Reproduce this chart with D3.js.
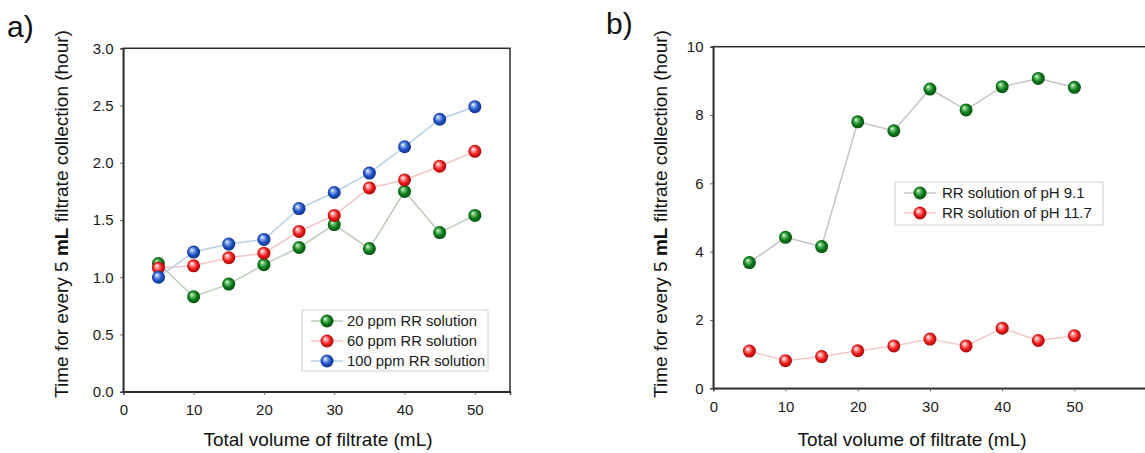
<!DOCTYPE html>
<html><head><meta charset="utf-8">
<script src="https://cdn.jsdelivr.net/npm/d3@7/dist/d3.min.js"></script>
<style>body{margin:0;background:#fff}svg{display:block}</style>
</head><body>
<svg id="c" width="1145" height="453"></svg>
<script>
const volume = [5,10,15,20,25,30,35,40,45,50];
const ppm20 = [1.12,0.83,0.94,1.11,1.26,1.46,1.25,1.75,1.39,1.54];
const ppm60 = [1.08,1.10,1.17,1.21,1.40,1.54,1.78,1.85,1.97,2.10];
const ppm100 = [1.00,1.22,1.29,1.33,1.60,1.74,1.91,2.14,2.38,2.49];
const pH91 = [3.68,4.42,4.15,7.80,7.54,8.76,8.15,8.83,9.07,8.81];
const pH117 = [1.09,0.81,0.93,1.10,1.24,1.44,1.24,1.76,1.40,1.54];
const xTicksA = [0,10,20,30,40,50];
const yTicksA = [0,0.5,1.0,1.5,2.0,2.5,3.0];
const xTicksB = [0,10,20,30,40,50];
const yTicksB = [0,2,4,6,8,10];
const seriesA = [
  {name:"20 ppm RR solution", values:ppm20, color:"green", line:"#b9cdb9"},
  {name:"60 ppm RR solution", values:ppm60, color:"red", line:"#f3c4c4"},
  {name:"100 ppm RR solution", values:ppm100, color:"blue", line:"#b4cfe6"}
];
const seriesB = [
  {name:"RR solution of pH 9.1", values:pH91, color:"green", line:"#c4c4c4"},
  {name:"RR solution of pH 11.7", values:pH117, color:"red", line:"#f3c8c8"}
];

const svg = d3.select("#c");
const font = "Liberation Sans, Arial, sans-serif";
const defs = svg.append("defs");
const grad = {green:["#7fd07f","#0d7a1c","#03400a"], red:["#ffb0b0","#ee1c1c","#8a0000"], blue:["#9fbaf2","#1f52c4","#0a2470"]};
Object.entries(grad).forEach(([k,c])=>{
  const g = defs.append("radialGradient").attr("id","g-"+k).attr("cx","0.5").attr("cy","0.5").attr("r","0.6").attr("fx","0.35").attr("fy","0.32");
  g.append("stop").attr("offset","0%").attr("stop-color","#ffffff");
  g.append("stop").attr("offset","18%").attr("stop-color",c[0]);
  g.append("stop").attr("offset","55%").attr("stop-color",c[1]);
  g.append("stop").attr("offset","100%").attr("stop-color",c[2]);
});

function panel(o){
  const x = d3.scaleLinear().domain(o.xDom).range([o.left,o.right]);
  const y = d3.scaleLinear().domain(o.yDom).range([o.bottom,o.top]);
  const g = svg.append("g");
  g.append("rect").attr("x",o.left).attr("y",o.top).attr("width",o.right-o.left).attr("height",o.bottom-o.top)
    .attr("fill","none").attr("stroke","#2a2a2a").attr("stroke-width",1.5);
  const xa = g.append("g").attr("transform",`translate(0,${o.bottom})`)
    .call(d3.axisBottom(x).tickValues(o.xTicks).tickSize(3).tickFormat(d3.format("d")));
  const ya = g.append("g").attr("transform",`translate(${o.left},0)`)
    .call(d3.axisLeft(y).tickValues(o.yTicks).tickSize(3).tickFormat(o.yFmt));
  [xa,ya].forEach(a=>{
    a.select(".domain").attr("stroke","#2a2a2a").attr("stroke-width",1.5);
    a.selectAll(".tick line").attr("stroke","#555");
    a.selectAll("text").attr("font-family",font).attr("font-size",15).attr("fill","#1a1a1a");
  });
  xa.selectAll("text").attr("dy","1.15em");
  ya.selectAll("text").attr("dx","-0.25em");
  const line = d3.line().x((d,i)=>x(volume[i])).y(d=>y(d));
  o.series.forEach(s=>{
    g.append("path").attr("d",line(s.values)).attr("fill","none").attr("stroke",s.line).attr("stroke-width",1.5);
  });
  o.series.forEach(s=>{
    g.selectAll(null).data(s.values).enter().append("circle")
      .attr("cx",(d,i)=>x(volume[i])).attr("cy",d=>y(d)).attr("r",6.5)
      .attr("fill",`url(#g-${s.color})`);
  });
  const lg = g.append("g");
  lg.append("rect").attr("x",o.leg.x).attr("y",o.leg.y).attr("width",o.leg.w).attr("height",o.leg.h)
    .attr("fill","#fff").attr("stroke","#d0d0d0").attr("stroke-width",1);
  o.series.forEach((s,i)=>{
    const yy = o.leg.y + o.leg.pad + i*o.leg.step;
    lg.append("line").attr("x1",o.leg.mx-16).attr("x2",o.leg.mx+16).attr("y1",yy).attr("y2",yy).attr("stroke",s.line).attr("stroke-width",1.5);
    lg.append("circle").attr("cx",o.leg.mx).attr("cy",yy).attr("r",6.5).attr("fill",`url(#g-${s.color})`);
    lg.append("text").attr("x",o.leg.tx).attr("y",yy).attr("dy","0.36em").attr("font-family",font)
      .attr("font-size",o.leg.fs).attr("fill","#1a1a1a").text(s.name);
  });
  svg.append("text").attr("x",o.xlabX).attr("y",o.xlabY).attr("text-anchor","middle")
    .attr("font-family",font).attr("font-size",19).attr("fill","#111").text("Total volume of filtrate (mL)");
  const yl = svg.append("text").attr("transform",`translate(${o.ylabX},${o.ylabCY}) rotate(-90)`).attr("text-anchor","middle")
    .attr("dy","0.35em").attr("font-family",font).attr("font-size",19).attr("fill","#111");
  yl.append("tspan").text("Time for every 5 ");
  yl.append("tspan").attr("font-weight","bold").text("mL");
  yl.append("tspan").text(" filtrate collection (hour)");
  svg.append("text").attr("x",o.tag.x).attr("y",o.tag.y).attr("font-family",font).attr("font-size",30).attr("fill","#111").text(o.tag.t);
}

panel({xDom:[0,55], yDom:[0,3], left:123.3, right:510, top:48.3, bottom:391.7,
  xTicks:xTicksA, yTicks:yTicksA, yFmt:d3.format(".1f"), series:seriesA,
  leg:{x:302,y:310,w:186,h:61,pad:11,step:20,mx:327,tx:347,fs:14.8},
  xlabX:318, xlabY:446, ylabX:61, ylabCY:214, tag:{x:7,y:37,t:"a)"}});
panel({xDom:[0,60], yDom:[0,10], left:713.3, right:1146.6, top:46.7, bottom:388.3,
  xTicks:xTicksB, yTicks:yTicksB, yFmt:d3.format("d"), series:seriesB,
  leg:{x:895,y:182,w:208,h:43,pad:11,step:20,mx:920,tx:942,fs:15},
  xlabX:912, xlabY:446, ylabX:660, ylabCY:214, tag:{x:606,y:34,t:"b)"}});
</script>
</body></html>
